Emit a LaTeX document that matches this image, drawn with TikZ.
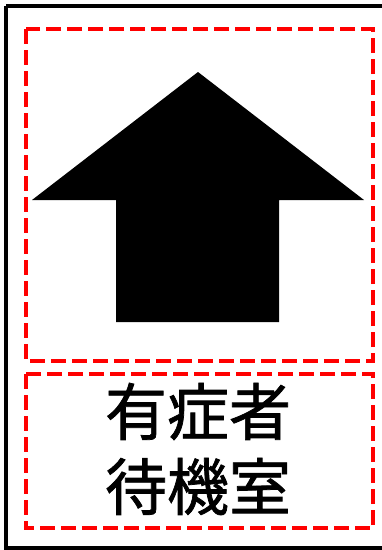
\documentclass[tikz,border=0pt]{standalone}
\usepackage{fontspec}
\newfontfamily\cjk[UprightFeatures={FakeBold=1.2}]{Noto Sans CJK JP}
\usepackage{tikz}

\tikzset{
  reddash/.style={draw=red,line width=4pt,dash pattern=on 15pt off 6pt},
}

\begin{document}
\begin{tikzpicture}[x=1pt,y=-1pt]
  \useasboundingbox (0,0) rectangle (382,550);
  \clip (0,0) rectangle (382,550);
  \draw[line width=4pt] (6,6) -- (390,6);
  \draw[line width=4pt] (6,6) -- (6,548) -- (390,548);
  \draw[reddash] (26,29) rectangle (373,361);
  \draw[reddash] (26,374) rectangle (373,528);
  \fill (198,72) -- (364,200) -- (279,200) -- (279,322) -- (116,322) -- (116,200) -- (32,200) -- cycle;
  \node[align=center,font=\cjk\fontsize{62}{75}\selectfont,inner sep=0pt] (label) at (198,449) {有症者\\待機室};
\end{tikzpicture}
\end{document}
